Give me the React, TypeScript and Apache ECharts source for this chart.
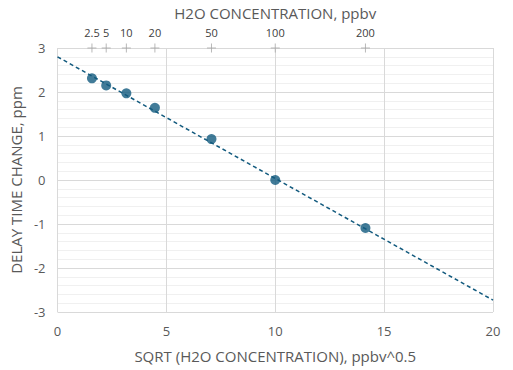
import React, { useEffect, useRef } from "react";
import * as echarts from "echarts";

const concentrations = [2.5, 5, 10, 20, 50, 100, 200];
const concLabels = ["2.5", "5", "10", "20", "50", "100", "200"];
const delayChange = [2.31, 2.15, 1.97, 1.64, 0.93, 0.0, -1.09];
const trendX = [0, 20];
const trendY = [2.8, -2.73];

const FONT = "'Open Sans', 'Noto Sans', sans-serif";
const COLOR = "#125A7E";

export default function App() {
  const ref = useRef<HTMLDivElement>(null);
  useEffect(() => {
    if (!ref.current) return;
    const chart = echarts.init(ref.current, undefined, { renderer: "svg" });
    const sqrtX = concentrations.map((c) => Math.sqrt(c));
    const points = sqrtX.map((x, i) => [x, delayChange[i]]);
    const trend = trendX.map((x, i) => [x, trendY[i]]);
    const plus = sqrtX.map((x) => [x, 3]);
    chart.setOption({
      animation: false,
      textStyle: { fontFamily: FONT },
      grid: { left: 57, right: 20, top: 48, bottom: 58 },
      xAxis: [
        {
          type: "value",
          position: "bottom",
          min: 0,
          max: 20,
          interval: 5,
          axisLine: { show: true, lineStyle: { color: "#d9d9d9" } },
          axisTick: { show: false },
          splitLine: { show: true, lineStyle: { color: "#d9d9d9" } },
          axisLabel: { color: "#595959", fontSize: 13, margin: 12, fontFamily: FONT },
          name: "SQRT (H2O CONCENTRATION), ppbv^0.5",
          nameLocation: "middle",
          nameGap: 36,
          nameTextStyle: { color: "#595959", fontSize: 15, fontFamily: FONT },
        },
        {
          type: "value",
          position: "top",
          min: 0,
          max: 20,
          axisLine: { show: false },
          axisTick: { show: false },
          splitLine: { show: false },
          axisLabel: {
            color: "#404040",
            fontSize: 11,
            margin: 10,
            fontFamily: FONT,
            customValues: sqrtX,
            formatter: (v: number) => {
              const idx = sqrtX.findIndex((s) => Math.abs(s - v) < 1e-6);
              return idx >= 0 ? concLabels[idx] : "";
            },
          },
          name: "H2O CONCENTRATION, ppbv",
          nameLocation: "middle",
          nameGap: 28,
          nameTextStyle: { color: "#595959", fontSize: 15, fontFamily: FONT },
        },
      ],
      yAxis: {
        type: "value",
        min: -3,
        max: 3,
        interval: 1,
        axisLine: { show: false },
        axisTick: { show: false },
        splitLine: { show: true, lineStyle: { color: "#d9d9d9" } },
        minorTick: { show: false, splitNumber: 5 },
        minorSplitLine: { show: true, lineStyle: { color: "#f0f0f0" } },
        axisLabel: { color: "#595959", fontSize: 13, margin: 12, fontFamily: FONT },
        name: "DELAY TIME CHANGE, ppm",
        nameLocation: "middle",
        nameGap: 33,
        nameTextStyle: { color: "#595959", fontSize: 15, fontFamily: FONT },
      },
      series: [
        {
          type: "line",
          data: trend,
          xAxisIndex: 0,
          showSymbol: false,
          symbol: "none",
          lineStyle: { color: COLOR, width: 1.5, type: [4, 3] },
          silent: true,
        },
        {
          type: "scatter",
          data: points,
          xAxisIndex: 0,
          symbol: "circle",
          symbolSize: 10,
          itemStyle: { color: COLOR },
        },
        {
          type: "scatter",
          data: plus,
          xAxisIndex: 0,
          symbol: "path://M0,5L10,5M5,0L5,10",
          symbolSize: 9,
          clip: false,
          itemStyle: { color: "none", borderColor: "#a6a6a6", borderWidth: 1 },
          silent: true,
        },
      ],
    });
    return () => chart.dispose();
  }, []);
  return (
    <div
      ref={ref}
      style={{ position: "absolute", left: 0, top: 0, width: 513, height: 370 }}
    />
  );
}
